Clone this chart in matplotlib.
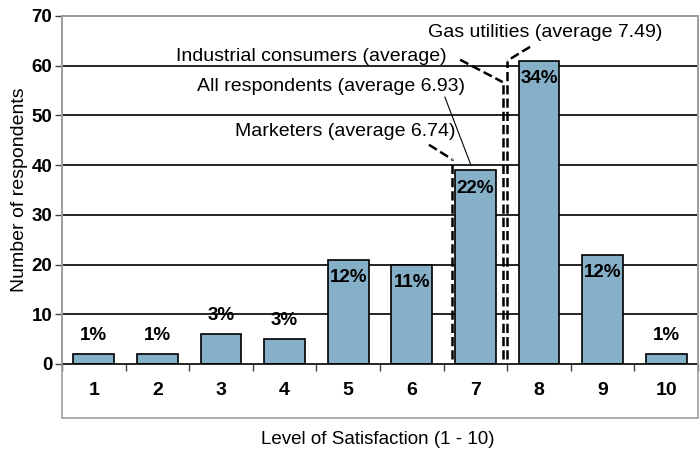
import matplotlib
matplotlib.use("Agg")
import matplotlib.pyplot as plt
from matplotlib.patches import Rectangle

plt.rcParams['font.family'] = ['Liberation Sans', 'DejaVu Sans']

# data
levels = [1, 2, 3, 4, 5, 6, 7, 8, 9, 10]
counts = [2, 2, 6, 5, 21, 20, 39, 61, 22, 2]
shares = ["1%", "1%", "3%", "3%", "12%", "11%", "22%", "34%", "12%", "1%"]

# average markers: label, x position on the axis, top of the line
avg_labels = ["Marketers (average 6.74)", "All respondents (average 6.93)",
              "Industrial consumers (average)", "Gas utilities (average 7.49)"]
avg_x = [6.63, 6.93, 7.43, 7.50]
avg_top = [41.2, 40.0, 56.7, 61.0]
avg_bottom = [1.0, 40.0, 1.0, 1.0]
avg_style = ["--", "-", "--", "--"]
# where the leader starts and where the text sits
lead_start = [(6.27, 44.1), (6.52, 53.7), (6.76, 61.2), (7.86, 63.8)]
text_pos = [(6.68, 46.7), (6.84, 55.9), (6.55, 61.8), (6.26, 66.7)]
text_ha = ["right", "right", "right", "left"]

fig = plt.figure(figsize=(7, 4.54), dpi=100)
ax = fig.add_axes([62 / 700, 1 - 364 / 454, 636 / 700, 348 / 454])

# grey frame around plot + tick label area
fig.patches.append(Rectangle((62 / 700, 1 - 418 / 454), 636 / 700, 402 / 454,
                             transform=fig.transFigure, fill=False,
                             edgecolor="#a0a0a0", linewidth=1.2, zorder=0))

for y in range(10, 70, 10):
    ax.axhline(y, color="black", linewidth=1.2, zorder=1)

bars = ax.bar(levels, counts, width=0.64, color="#85b0c8",
              edgecolor="black", linewidth=1.2, zorder=2)

for x, c, s in zip(levels, counts, shares):
    if c >= 20:
        ax.annotate(s, (x, c), xytext=(0, -7), textcoords="offset points",
                    ha="center", va="top", fontsize=13.5, fontweight="bold",
                    zorder=5)
    else:
        ax.annotate(s, (x, c), xytext=(0, 7), textcoords="offset points",
                    ha="center", va="bottom", fontsize=13.5, fontweight="bold",
                    zorder=5)

for i in range(len(avg_labels)):
    lw = 1.8 if avg_style[i] == "--" else 0.8
    ax.plot([avg_x[i], avg_x[i]], [avg_bottom[i], avg_top[i]],
            linestyle=avg_style[i], color="black", linewidth=lw, zorder=4)
    ax.plot([lead_start[i][0], avg_x[i]], [lead_start[i][1], avg_top[i]],
            linestyle=avg_style[i], color="black", linewidth=lw, zorder=4)
    ax.text(text_pos[i][0], text_pos[i][1], avg_labels[i], ha=text_ha[i],
            va="center", fontsize=14, zorder=5)

ax.set_xlim(0.5, 10.5)
ax.set_ylim(0, 70)
ax.set_yticks(range(0, 80, 10))
ax.set_xticks(levels)
ax.set_xticks([x + 0.5 for x in range(0, 11)], minor=True)
ax.tick_params(axis="x", which="major", length=0, pad=13)
ax.tick_params(axis="x", which="minor", length=5, width=1, color="#404040")
ax.tick_params(axis="y", length=5, width=1, color="#404040", pad=2)
for lab in ax.get_xticklabels():
    lab.set_fontweight("bold")
    lab.set_fontsize(14)
for lab in ax.get_yticklabels():
    lab.set_fontweight("bold")
    lab.set_fontsize(13.5)

ax.spines["bottom"].set_color("black")
ax.spines["bottom"].set_linewidth(1.2)
ax.spines["bottom"].set_zorder(3)
for side in ["left", "top", "right"]:
    ax.spines[side].set_color("#808080")
    ax.spines[side].set_linewidth(1.2)

fig.text(20 / 700, 1 - 190 / 454, "Number of respondents", rotation=90,
         ha="center", va="center", fontsize=14)
fig.text(378 / 700, 1 - 440 / 454, "Level of Satisfaction (1 - 10)",
         ha="center", va="center", fontsize=13.5)

fig.savefig("out.png", dpi=100)
